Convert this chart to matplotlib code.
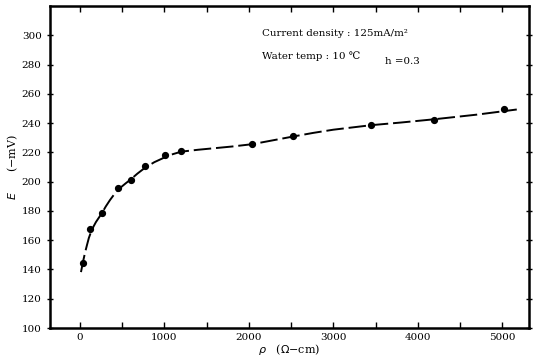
import matplotlib
matplotlib.use("Agg")
import matplotlib.pyplot as plt

# measured points
rho = [30, 120, 260, 450, 600, 770, 1010, 1200, 2040, 2520, 3450, 4190, 5020]
E = [144.2, 167.6, 178.5, 195.4, 200.8, 210.4, 218.1, 220.6, 225.4, 231.3, 238.8, 242.2, 249.3]

# drawn (dashed) fitted curve
curve_rho = [12, 35, 60, 83, 105, 130, 160, 189, 225, 260, 305, 355, 410, 473, 540, 600, 680, 770, 880,
             1000, 1100, 1200, 1400, 1600, 1800, 2040, 2280, 2520, 2760, 3000, 3450, 3800, 4190, 4700, 5170]
curve_E = [138.2, 145.0, 151.5, 156.7, 161.5, 165.5, 169.3, 172.4, 175.5, 178.5, 183.0, 187.4, 191.7, 195.6,
           198.8, 201.5, 205.5, 209.5, 213.3, 216.5, 218.8, 220.5, 221.8, 222.9, 224.0, 225.6, 228.2, 230.8,
           233.3, 235.5, 238.6, 240.4, 242.6, 245.8, 249.3]

xticks = [0, 1000, 2000, 3000, 4000, 5000]
yticks = [100, 120, 140, 160, 180, 200, 220, 240, 260, 280, 300]

plt.rcParams['font.family'] = ['DejaVu Serif']
fig = plt.figure(figsize=(5.45, 3.62), dpi=100)
ax = fig.add_axes([0.0917, 0.0939, 0.879, 0.8895])

ax.plot(curve_rho, curve_E, color='black', lw=1.4, linestyle=(0, (9, 2.5)), solid_joinstyle='round')
ax.plot(rho, E, 'o', color='black', ms=4.2)

ax.set_xlim(-355, 5315)
ax.set_ylim(100, 320)
ax.set_xticks(xticks)
ax.set_xticks([500, 1500, 2500, 3500, 4500], minor=True)
ax.set_yticks(yticks)
ax.tick_params(axis='both', which='both', direction='in', top=True, right=True,
               labelsize=7.5, width=1.0, length=4)
ax.tick_params(axis='y', direction='inout', length=5)
for s in ax.spines.values():
    s.set_linewidth(1.8)

ax.text(0.443, 0.916, 'Current density : 125mA/m²', transform=ax.transAxes, fontsize=7.4, va='center')
ax.text(0.443, 0.845, 'Water temp : 10 ℃', transform=ax.transAxes, fontsize=7.4, va='center')
ax.text(0.70, 0.828, 'h =0.3', transform=ax.transAxes, fontsize=7.4, va='center')

ax.set_xlabel('$\\rho$   ($\\Omega$−cm)', fontsize=8, labelpad=0)
ax.set_ylabel('$E$      (−mV)', fontsize=8, labelpad=1)

fig.savefig('out.png', dpi=100)
